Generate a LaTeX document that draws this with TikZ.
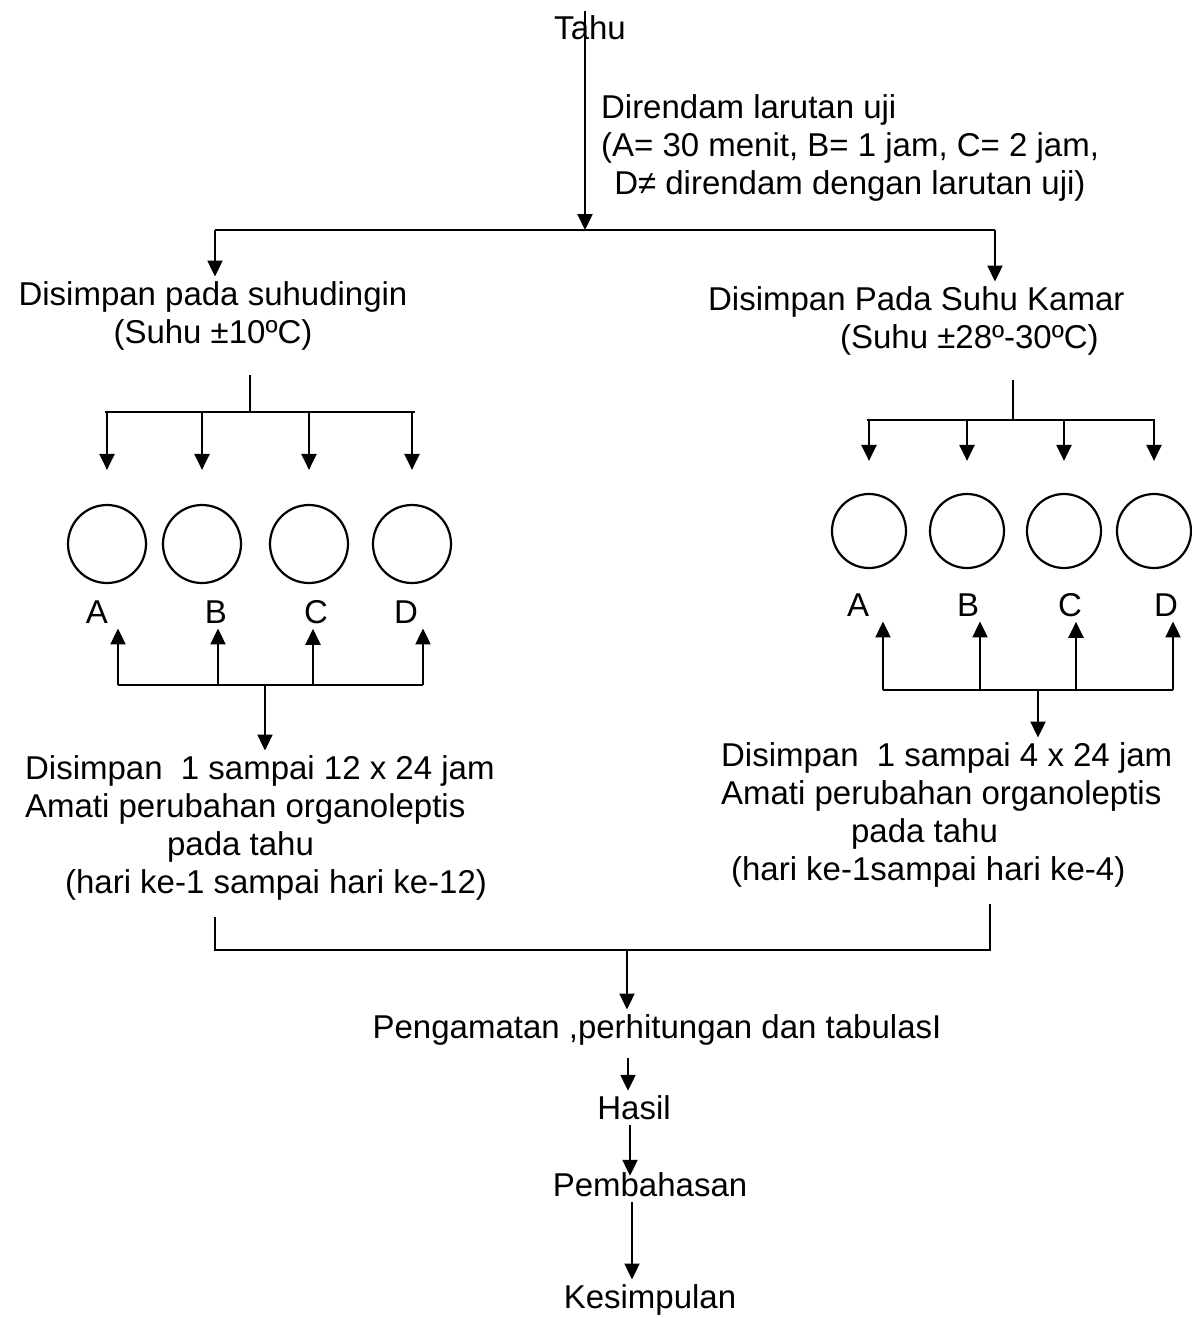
\documentclass[tikz,border=0pt]{standalone}
\usepackage{fontspec}
\setmainfont{Liberation Sans}
\usetikzlibrary{arrows.meta}
\begin{document}
\begin{tikzpicture}[x=0.5pt,y=-0.5pt,line width=1.1pt,
  >={Triangle[length=8pt,width=7.5pt]},
  lbl/.style={inner sep=2pt,font=\fontsize{16.5}{19}\selectfont,align=center},
  dish/.style={draw,circle,minimum size=39pt,inner sep=0pt}]
\useasboundingbox (0,0) rectangle (1191,1318);
% soaking
\node[lbl] (tahu) at (590,28) {Tahu};
\node[lbl,align=left,anchor=west] (rendam) at (596,148) {Direndam larutan uji\\(A= 30 menit, B= 1 jam, C= 2 jam,\\\hspace*{0.4em}D≠ direndam dengan larutan uji)};
\coordinate (split) at (585,230);
\coordinate (kL) at (215,230);
\coordinate (kR) at (995,230);
\draw[->] (tahu.north -| split) -- (split);
\draw (kL) -- (kR);
% storage
\node[lbl] (dingin) at (213,316) {Disimpan pada suhudingin\\(Suhu ±10ºC)};
\node[lbl,align=left,anchor=west] (kamar) at (703,321) {Disimpan Pada Suhu Kamar\\\hspace*{66pt}(Suhu ±28º-30ºC)};
\draw[->] (kL) -- (kL |- dingin.north);
\draw[->] (kR) -- (kR |- kamar.north);
% left group
\coordinate (dL) at (250,412);
\coordinate (uL) at (265,685);
\draw ([yshift=-10pt]dingin.south -| dL) -- (dL);
\draw (105,412) -- (415,412);
\draw (118,685) -- (423,685);
\foreach \n/\cx/\lx/\ax in {A/107/97/118,B/202/216/218,C/309/316/313,D/412/406/423}{
  \node[dish] (L\n) at (\cx,544) {};
  \node[lbl] (lab\n) at (\lx,612) {\n};
  \draw[->,shorten >=17pt] (\cx,412) -- (L\n.north);
  \draw[->] (\ax,685) -- (\ax,685 |- lab\n.south);
}
\node[lbl,align=left,anchor=west] (simpanL) at (20,828) {Disimpan \ 1 sampai 12 x 24 jam\\Amati perubahan organoleptis\\\hspace*{71pt}pada tahu\\\hspace*{20pt}(hari ke-1 sampai hari ke-12)};
\draw[->] (uL) -- (uL |- simpanL.north);
% right group
\coordinate (dR) at (1013,420);
\coordinate (uR) at (1038,690);
\draw ([yshift=-10pt]kamar.south -| dR) -- (dR);
\draw (867,420) -- (1155,420);
\draw (883,690) -- (1173,690);
\foreach \n/\cx/\lx/\ax in {A/869/858/883,B/967/968/980,C/1064/1070/1076,D/1154/1166/1173}{
  \node[dish,minimum size=37pt] (R\n) at (\cx,531) {};
  \node[lbl] (rab\n) at (\lx,605) {\n};
  \draw[->,shorten >=16pt] (\cx,420) -- (R\n.north);
  \draw[->] (\ax,690) -- (\ax,690 |- rab\n.south);
}
\node[lbl,align=left,anchor=west] (simpanR) at (716,815) {Disimpan \ 1 sampai 4 x 24 jam\\Amati perubahan organoleptis\\\hspace*{65pt}pada tahu\\\hspace*{5pt}(hari ke-1sampai hari ke-4)};
\draw[->] (uR) -- (uR |- simpanR.north);
% results
\coordinate (mL) at (215,950);
\coordinate (mR) at (990,950);
\coordinate (mC) at (627,950);
\node[lbl] (olah) at (657,1030) {Pengamatan ,perhitungan dan tabulasI};
\node[lbl] (hasil) at (634,1108) {Hasil};
\node[lbl] (bahas) at (650,1185) {Pembahasan};
\node[lbl] (simpul) at (650,1300) {Kesimpulan};
\draw ([yshift=-6pt]mL |- simpanL.south) -- (mL) -- (mR) -- ([yshift=-6pt]mR |- simpanR.south);
\draw[->] (mC) -- (mC |- olah.north);
\draw[->] ([yshift=-4pt]olah.south -| 628,0) -- (628,0 |- hasil.north);
\draw[->] (hasil.south -| 630,0) -- ([yshift=-4pt]630,0 |- bahas.north);
\draw[->] (bahas.south -| 632,0) -- (632,0 |- simpul.north);
\end{tikzpicture}
\end{document}
